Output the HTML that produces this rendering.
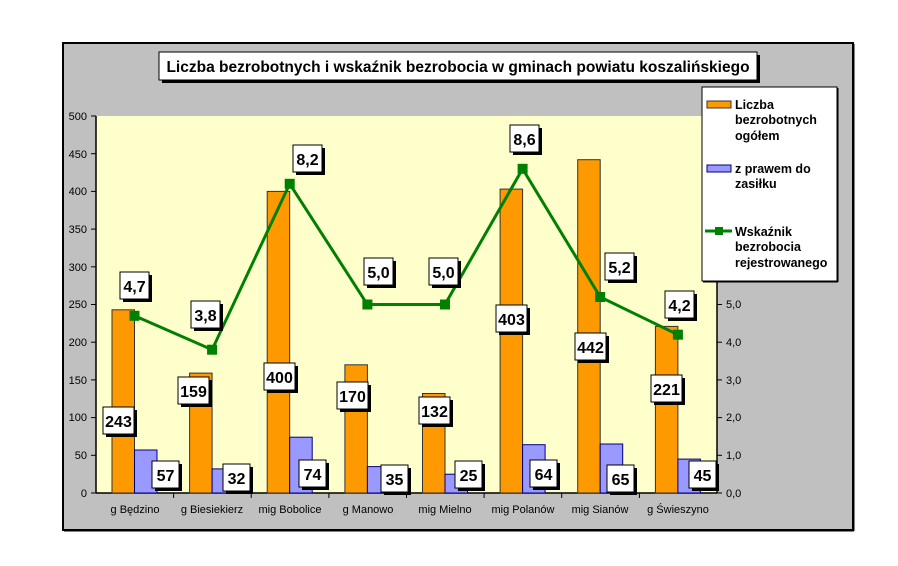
<!DOCTYPE html>
<html><head><meta charset="utf-8"><style>body{margin:0;background:#fff}svg{display:block}</style></head><body>
<svg width="898" height="566" xmlns="http://www.w3.org/2000/svg" font-family="Liberation Sans, Arial, sans-serif">
<defs><filter id="s"><feOffset dx="0" dy="0"/></filter></defs>
<rect x="63" y="43" width="790" height="487" fill="#c0c0c0" stroke="#000" stroke-width="2"/>
<line x1="64" y1="531" x2="854" y2="531" stroke="#000" stroke-width="1"/>
<line x1="854" y1="44" x2="854" y2="531" stroke="#000" stroke-width="1"/>
<rect x="96" y="116" width="621" height="377" fill="#ffffcc"/>
<!-- title -->
<rect x="162" y="55" width="598" height="28" fill="#000"/>
<rect x="159" y="52" width="598" height="28" fill="#fff" stroke="#000"/>
<text x="458" y="72" text-anchor="middle" font-size="15.5" font-weight="bold">Liczba bezrobotnych i wskaźnik bezrobocia w gminach powiatu koszalińskiego</text>
<!-- axes -->
<g stroke="#000" stroke-width="1.5">
<line x1="96" y1="116" x2="96" y2="493"/><line x1="717" y1="116" x2="717" y2="493"/><line x1="96" y1="493" x2="717" y2="493"/>
</g>
<g stroke="#000" stroke-width="1">
<line x1="91" y1="116" x2="96" y2="116"/><line x1="91" y1="153.7" x2="96" y2="153.7"/><line x1="91" y1="191.4" x2="96" y2="191.4"/><line x1="91" y1="229.1" x2="96" y2="229.1"/><line x1="91" y1="266.8" x2="96" y2="266.8"/><line x1="91" y1="304.5" x2="96" y2="304.5"/><line x1="91" y1="342.2" x2="96" y2="342.2"/><line x1="91" y1="379.9" x2="96" y2="379.9"/><line x1="91" y1="417.6" x2="96" y2="417.6"/><line x1="91" y1="455.3" x2="96" y2="455.3"/><line x1="91" y1="493" x2="96" y2="493"/>
<line x1="717" y1="304.5" x2="722" y2="304.5"/><line x1="717" y1="342.2" x2="722" y2="342.2"/><line x1="717" y1="379.9" x2="722" y2="379.9"/><line x1="717" y1="417.6" x2="722" y2="417.6"/><line x1="717" y1="455.3" x2="722" y2="455.3"/><line x1="717" y1="493" x2="722" y2="493"/>
<line x1="173.6" y1="493" x2="173.6" y2="498"/><line x1="251.2" y1="493" x2="251.2" y2="498"/><line x1="328.9" y1="493" x2="328.9" y2="498"/><line x1="406.5" y1="493" x2="406.5" y2="498"/><line x1="484.1" y1="493" x2="484.1" y2="498"/><line x1="561.7" y1="493" x2="561.7" y2="498"/><line x1="639.4" y1="493" x2="639.4" y2="498"/>
</g>
<g font-size="11" text-anchor="end">
<text x="87" y="120">500</text><text x="87" y="158">450</text><text x="87" y="195">400</text><text x="87" y="233">350</text><text x="87" y="271">300</text><text x="87" y="308">250</text><text x="87" y="346">200</text><text x="87" y="384">150</text><text x="87" y="421">100</text><text x="87" y="459">50</text><text x="87" y="497">0</text>
</g>
<g font-size="11">
<text x="726" y="308">5,0</text><text x="726" y="346">4,0</text><text x="726" y="384">3,0</text><text x="726" y="421">2,0</text><text x="726" y="459">1,0</text><text x="726" y="497">0,0</text>
</g>
<g font-size="11" text-anchor="middle">
<text x="135" y="513">g Będzino</text><text x="212" y="513">g Biesiekierz</text><text x="290" y="513">mig Bobolice</text><text x="368" y="513">g Manowo</text><text x="445" y="513">mig Mielno</text><text x="523" y="513">mig Polanów</text><text x="600" y="513">mig Sianów</text><text x="678" y="513">g Świeszyno</text>
</g>
<!-- bars -->
<g stroke="#333" stroke-width="1">
<rect x="112" y="309.8" width="22.5" height="183.2" fill="#ff9900"/><rect x="134.5" y="450" width="22.5" height="43" fill="#9999ff" stroke="#000080"/>
<rect x="189.6" y="373.1" width="22.5" height="119.9" fill="#ff9900"/><rect x="212.1" y="468.9" width="22.5" height="24.1" fill="#9999ff" stroke="#000080"/>
<rect x="267.2" y="191.4" width="22.5" height="301.6" fill="#ff9900"/><rect x="289.7" y="437.2" width="22.5" height="55.8" fill="#9999ff" stroke="#000080"/>
<rect x="344.9" y="364.8" width="22.5" height="128.2" fill="#ff9900"/><rect x="367.4" y="466.6" width="22.5" height="26.4" fill="#9999ff" stroke="#000080"/>
<rect x="422.5" y="393.5" width="22.5" height="99.5" fill="#ff9900"/><rect x="445" y="474.2" width="22.5" height="18.8" fill="#9999ff" stroke="#000080"/>
<rect x="500.1" y="189.1" width="22.5" height="303.9" fill="#ff9900"/><rect x="522.6" y="444.7" width="22.5" height="48.3" fill="#9999ff" stroke="#000080"/>
<rect x="577.7" y="159.7" width="22.5" height="333.3" fill="#ff9900"/><rect x="600.2" y="444" width="22.5" height="49" fill="#9999ff" stroke="#000080"/>
<rect x="655.4" y="326.4" width="22.5" height="166.6" fill="#ff9900"/><rect x="677.9" y="459.1" width="22.5" height="33.9" fill="#9999ff" stroke="#000080"/>
</g>
<!-- line -->
<polyline points="134.5,315.8 212.1,349.7 289.7,183.8 367.4,304.5 445,304.5 522.6,168.8 600.2,297 677.9,334.7" fill="none" stroke="#008000" stroke-width="3"/>
<g fill="#008000">
<rect x="129.5" y="310.8" width="10" height="10"/><rect x="207.1" y="344.7" width="10" height="10"/><rect x="284.7" y="178.8" width="10" height="10"/><rect x="362.4" y="299.5" width="10" height="10"/><rect x="440" y="299.5" width="10" height="10"/><rect x="517.6" y="163.8" width="10" height="10"/><rect x="595.2" y="292" width="10" height="10"/><rect x="672.9" y="329.7" width="10" height="10"/>
</g>
<!-- data labels -->
<g font-size="16" font-weight="bold" text-anchor="middle">
<g id="lbls">
</g>
</g>
<g font-size="16" font-weight="bold" text-anchor="middle">
<!-- helper: each label = shadow rect, box, text -->
<g><rect x="106" y="410" width="31" height="27" fill="#000"/><rect x="103" y="407" width="31" height="27" fill="#fff" stroke="#000"/><text x="118.5" y="427">243</text></g>
<g><rect x="155" y="464" width="27" height="27" fill="#000"/><rect x="152" y="461" width="27" height="27" fill="#fff" stroke="#000"/><text x="165.5" y="481">57</text></g>
<g><rect x="181" y="380" width="31" height="27" fill="#000"/><rect x="178" y="377" width="31" height="27" fill="#fff" stroke="#000"/><text x="193.5" y="397">159</text></g>
<g><rect x="226" y="467" width="27" height="27" fill="#000"/><rect x="223" y="464" width="27" height="27" fill="#fff" stroke="#000"/><text x="236.5" y="484">32</text></g>
<g><rect x="267" y="366" width="31" height="27" fill="#000"/><rect x="264" y="363" width="31" height="27" fill="#fff" stroke="#000"/><text x="279.5" y="383">400</text></g>
<g><rect x="302" y="463" width="27" height="27" fill="#000"/><rect x="299" y="460" width="27" height="27" fill="#fff" stroke="#000"/><text x="312.5" y="480">74</text></g>
<g><rect x="340" y="385" width="31" height="27" fill="#000"/><rect x="337" y="382" width="31" height="27" fill="#fff" stroke="#000"/><text x="352.5" y="402">170</text></g>
<g><rect x="384" y="468" width="27" height="27" fill="#000"/><rect x="381" y="465" width="27" height="27" fill="#fff" stroke="#000"/><text x="394.5" y="485">35</text></g>
<g><rect x="422" y="400" width="31" height="27" fill="#000"/><rect x="419" y="397" width="31" height="27" fill="#fff" stroke="#000"/><text x="434.5" y="417">132</text></g>
<g><rect x="458" y="464" width="27" height="27" fill="#000"/><rect x="455" y="461" width="27" height="27" fill="#fff" stroke="#000"/><text x="468.5" y="481">25</text></g>
<g><rect x="499" y="308" width="31" height="27" fill="#000"/><rect x="496" y="305" width="31" height="27" fill="#fff" stroke="#000"/><text x="511.5" y="325">403</text></g>
<g><rect x="533" y="463" width="27" height="27" fill="#000"/><rect x="530" y="460" width="27" height="27" fill="#fff" stroke="#000"/><text x="543.5" y="480">64</text></g>
<g><rect x="578" y="336" width="31" height="27" fill="#000"/><rect x="575" y="333" width="31" height="27" fill="#fff" stroke="#000"/><text x="590.5" y="353">442</text></g>
<g><rect x="610" y="468" width="27" height="27" fill="#000"/><rect x="607" y="465" width="27" height="27" fill="#fff" stroke="#000"/><text x="620.5" y="485">65</text></g>
<g><rect x="654" y="378" width="31" height="27" fill="#000"/><rect x="651" y="375" width="31" height="27" fill="#fff" stroke="#000"/><text x="666.5" y="395">221</text></g>
<g><rect x="692" y="464" width="27" height="27" fill="#000"/><rect x="689" y="461" width="27" height="27" fill="#fff" stroke="#000"/><text x="702.5" y="481">45</text></g>
<!-- line labels -->
<g><rect x="123" y="275" width="29" height="27" fill="#000"/><rect x="120" y="272" width="29" height="27" fill="#fff" stroke="#000"/><text x="134.5" y="292">4,7</text></g>
<g><rect x="194" y="304" width="29" height="27" fill="#000"/><rect x="191" y="301" width="29" height="27" fill="#fff" stroke="#000"/><text x="205.5" y="321">3,8</text></g>
<g><rect x="296" y="148" width="29" height="27" fill="#000"/><rect x="293" y="145" width="29" height="27" fill="#fff" stroke="#000"/><text x="307.5" y="165">8,2</text></g>
<g><rect x="367" y="261" width="29" height="27" fill="#000"/><rect x="364" y="258" width="29" height="27" fill="#fff" stroke="#000"/><text x="378.5" y="278">5,0</text></g>
<g><rect x="432" y="261" width="29" height="27" fill="#000"/><rect x="429" y="258" width="29" height="27" fill="#fff" stroke="#000"/><text x="443.5" y="278">5,0</text></g>
<g><rect x="513" y="128" width="29" height="27" fill="#000"/><rect x="510" y="125" width="29" height="27" fill="#fff" stroke="#000"/><text x="524.5" y="145">8,6</text></g>
<g><rect x="608" y="256" width="29" height="27" fill="#000"/><rect x="605" y="253" width="29" height="27" fill="#fff" stroke="#000"/><text x="619.5" y="273">5,2</text></g>
<g><rect x="668" y="294" width="29" height="27" fill="#000"/><rect x="665" y="291" width="29" height="27" fill="#fff" stroke="#000"/><text x="679.5" y="311">4,2</text></g>
</g>
<!-- legend -->
<rect x="702" y="87" width="135" height="194" fill="#fff" stroke="#000"/>
<line x1="838" y1="88" x2="838" y2="282" stroke="#000" stroke-width="1"/>
<line x1="703" y1="282" x2="838" y2="282" stroke="#000" stroke-width="1"/>
<rect x="707" y="101" width="24" height="7" fill="#ff9900" stroke="#333"/>
<rect x="707" y="165" width="24" height="7" fill="#9999ff" stroke="#000080"/>
<line x1="705" y1="231" x2="732" y2="231" stroke="#008000" stroke-width="3"/>
<rect x="715" y="227" width="8" height="8" fill="#008000"/>
<g font-size="12.5" font-weight="bold">
<text x="735" y="109">Liczba</text><text x="735" y="124">bezrobotnych</text><text x="735" y="140">ogółem</text>
<text x="735" y="173">z prawem do</text><text x="735" y="188">zasiłku</text>
<text x="735" y="236">Wskaźnik</text><text x="735" y="251">bezrobocia</text><text x="735" y="267">rejestrowanego</text>
</g>
</svg>
</body></html>
